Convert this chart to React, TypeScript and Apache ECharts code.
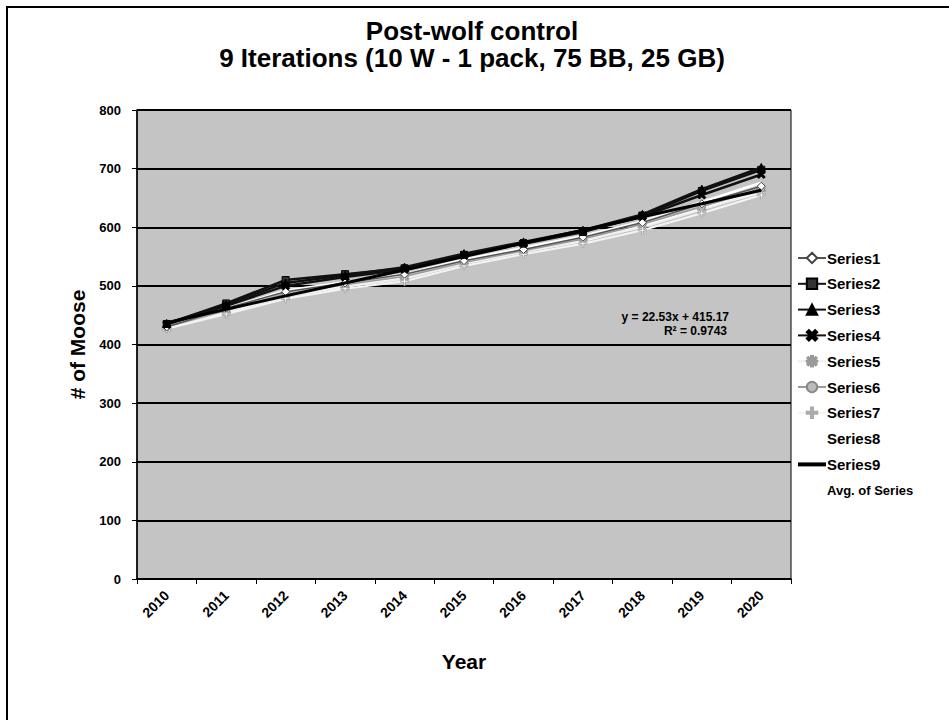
import React, { useEffect, useRef } from "react";
import * as echarts from "echarts";

const years = ["2010", "2011", "2012", "2013", "2014", "2015", "2016", "2017", "2018", "2019", "2020"];
const series1 = [430, 462, 490, 505, 520, 543, 562, 583, 608, 640, 670];
const series2 = [435, 470, 510, 520, 530, 553, 572, 592, 620, 662, 698];
const series3 = [436, 468, 505, 518, 532, 555, 575, 595, 622, 665, 702];
const series4 = [434, 466, 500, 515, 528, 552, 573, 593, 618, 655, 690];
const series5 = [428, 455, 482, 498, 512, 538, 558, 578, 600, 630, 662];
const series6 = [430, 458, 486, 502, 516, 540, 560, 580, 605, 635, 666];
const series7 = [427, 452, 478, 495, 508, 534, 554, 572, 595, 624, 655];
const series8 = [429, 456, 484, 500, 514, 539, 559, 577, 602, 632, 660];
const series9 = [437, 460, 483, 505, 527, 550, 573, 595, 618, 640, 663];
const avgSeries = [432, 461, 492, 506, 520, 545, 565, 585, 610, 643, 676];
const yTicks = [0, 100, 200, 300, 400, 500, 600, 700, 800];

const titleLine1 = "Post-wolf control";
const titleLine2 = "9 Iterations (10 W - 1 pack, 75 BB, 25 GB)";
const trendEq = "y = 22.53x + 415.17";
const trendR2 = "R² = 0.9743";

const X_SYM = "path://M0,2L2,0L5,3L8,0L10,2L7,5L10,8L8,10L5,7L2,10L0,8L3,5Z";
const STAR_SYM = "path://M4,0H6V3.5L8.5,1L9.5,2L7,4.5H10V5.5H7L9.5,8L8.5,9L6,6.5V10H4V6.5L1.5,9L0.5,8L3,5.5H0V4.5H3L0.5,2L1.5,1L4,3.5Z";
const PLUS_SYM = "path://M4,0H6V4H10V6H6V10H4V6H0V4H4Z";

const FONT = "Liberation Sans, Arial, sans-serif";

export default function App() {
  const ref = useRef<HTMLDivElement>(null);
  useEffect(() => {
    if (!ref.current) return;
    const chart = echarts.init(ref.current, undefined, { renderer: "svg" });
    const mk = (
      name: string,
      data: number[],
      color: string,
      width: number,
      symbol: string,
      symbolSize: number,
      fill: string,
      border: string,
      z: number
    ) => ({
      name,
      type: "line",
      data,
      z,
      symbol,
      symbolSize,
      showSymbol: symbol !== "none",
      lineStyle: { color, width },
      itemStyle: { color: fill, borderColor: border, borderWidth: 1 },
    });
    const option: any = {
      animation: false,
      backgroundColor: "#ffffff",
      textStyle: { fontFamily: FONT },
      grid: {
        left: 137,
        right: 158,
        top: 110,
        bottom: 141,
        show: true,
        backgroundColor: "#c4c4c4",
        borderColor: "#000",
        borderWidth: 1,
      },
      graphic: [
        {
          type: "rect",
          shape: { x: 7, y: 7, width: 1000, height: 800 },
          style: { fill: "none", stroke: "#000", lineWidth: 2 },
          silent: true,
        },
        {
          type: "text",
          x: 472,
          y: 31,
          style: {
            text: titleLine1,
            font: `bold 26px ${FONT}`,
            fill: "#000",
            align: "center",
            verticalAlign: "middle",
          },
        },
        {
          type: "text",
          x: 472,
          y: 58,
          style: {
            text: titleLine2,
            font: `bold 26px ${FONT}`,
            fill: "#000",
            align: "center",
            verticalAlign: "middle",
          },
        },
        {
          type: "text",
          x: 729,
          y: 317,
          z: 100,
          style: {
            text: trendEq,
            font: `bold 12px ${FONT}`,
            fill: "#000",
            align: "right",
            verticalAlign: "middle",
          },
        },
        {
          type: "text",
          x: 727,
          y: 331,
          z: 100,
          style: {
            text: trendR2,
            font: `bold 12px ${FONT}`,
            fill: "#000",
            align: "right",
            verticalAlign: "middle",
          },
        },
      ],
      legend: {
        orient: "vertical",
        left: 796,
        top: 250,
        padding: 0,
        itemWidth: 28,
        itemHeight: 13,
        itemGap: 9.8,
        textStyle: {
          fontFamily: FONT,
          fontWeight: "bold",
          fontSize: 15,
          lineHeight: 16,
          color: "#000",
          padding: [0, 0, 0, -4],
        },
        data: [
          "Series1",
          "Series2",
          "Series3",
          "Series4",
          "Series5",
          "Series6",
          "Series7",
          "Series8",
          { name: "Series9", itemStyle: { opacity: 0 }, lineStyle: { width: 4, color: "#000" } },
          { name: "Avg. of Series", textStyle: { fontSize: 13 } },
        ],
      },
      xAxis: {
        type: "category",
        data: years,
        boundaryGap: true,
        name: "Year",
        nameLocation: "middle",
        nameGap: 72,
        nameTextStyle: { fontFamily: FONT, fontWeight: "bold", fontSize: 21, color: "#000" },
        axisLine: { lineStyle: { color: "#000", width: 1.5 } },
        axisTick: { show: true, length: 5, lineStyle: { color: "#000" } },
        axisLabel: {
          rotate: 45,
          fontFamily: FONT,
          fontWeight: "bold",
          fontSize: 14,
          color: "#000",
          margin: 14,
        },
        splitLine: { show: false },
      },
      yAxis: {
        type: "value",
        min: 0,
        max: 800,
        interval: 100,
        name: "# of Moose",
        nameLocation: "middle",
        nameGap: 35,
        nameRotate: 90,
        nameTextStyle: { fontFamily: FONT, fontWeight: "bold", fontSize: 21, color: "#000" },
        axisLine: { show: true, lineStyle: { color: "#000", width: 1.5 } },
        axisTick: { show: true, length: 5, lineStyle: { color: "#000" } },
        axisLabel: {
          fontFamily: FONT,
          fontWeight: "bold",
          fontSize: 13,
          color: "#000",
          margin: 16,
          formatter: (v: number) => (yTicks.includes(v) ? String(v) : ""),
        },
        splitLine: { show: true, lineStyle: { color: "#000", width: 2 } },
      },
      series: [
        mk("Series1", series1, "#555555", 1.5, "diamond", 8, "#ffffff", "#444444", 5),
        mk("Series2", series2, "#111111", 2.5, "rect", 7, "#333333", "#000000", 6),
        mk("Series3", series3, "#111111", 2.5, "triangle", 8, "#000000", "#000000", 6),
        mk("Series4", series4, "#111111", 2.5, X_SYM, 8, "#000000", "#000000", 6),
        mk("Series5", series5, "#eeeeee", 2, STAR_SYM, 9, "#ffffff", "#999999", 4),
        mk("Series6", series6, "#9a9a9a", 1.5, "circle", 7, "#bbbbbb", "#888888", 4),
        mk("Series7", series7, "#f4f4f4", 2, PLUS_SYM, 8, "#ffffff", "#aaaaaa", 4),
        mk("Series8", series8, "#ffffff", 2.5, "none", 0, "#ffffff", "#ffffff", 3),
        mk("Series9", series9, "#000000", 3, "none", 0, "#000000", "#000000", 7),
        mk("Avg. of Series", avgSeries, "#ffffff", 2.5, "none", 0, "#ffffff", "#ffffff", 3),
      ],
    };
    chart.setOption(option);
    return () => chart.dispose();
  }, []);
  return (
    <div
      ref={ref}
      style={{ position: "fixed", left: 0, top: 0, width: 949, height: 720, background: "#fff" }}
    />
  );
}
